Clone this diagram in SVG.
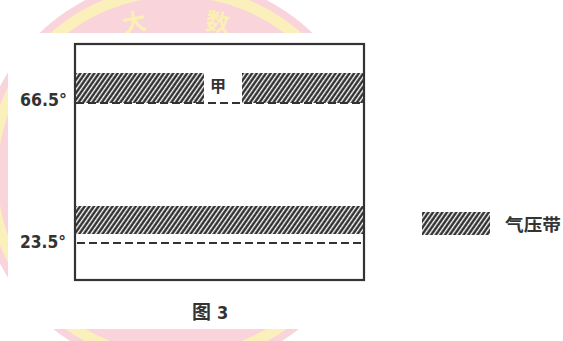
<svg xmlns="http://www.w3.org/2000/svg" width="563" height="341" viewBox="0 0 563 341">
<style>
.lbl{font-family:"DejaVu Sans Condensed","Liberation Sans",sans-serif;font-weight:bold;fill:#333}
.cjk{font-family:"Noto Sans CJK SC","Noto Sans",sans-serif;font-weight:bold;fill:#333}
.wm{font-family:"Noto Sans CJK SC",sans-serif;font-weight:bold;fill:#fbefb5}
.dash{stroke:#333;stroke-width:2.2;stroke-dasharray:8 4;fill:none}
.frame{fill:none;stroke:#333;stroke-width:2.2}
</style>
<defs>
<pattern id="hatch" width="3.8" height="10" patternUnits="userSpaceOnUse" patternTransform="rotate(35)">
<rect width="3.8" height="10" fill="#fff"/>
<line x1="1.5" y1="-1" x2="1.5" y2="11" stroke="#222" stroke-width="2.3"/>
</pattern>
</defs>
<rect width="563" height="341" fill="#fff"/>
<g id="watermark">
<circle cx="176" cy="175" r="197" fill="#f9d4da"/>
<circle cx="176" cy="175" r="184" fill="none" stroke="#fbf0bb" stroke-width="11"/>
<text class="wm" x="134" y="31" font-size="24" text-anchor="middle" transform="rotate(-10 134 20)">大</text>
<text class="wm" x="218" y="31" font-size="24" text-anchor="middle" transform="rotate(8 218 20)">数</text>
<rect x="8" y="33" width="555" height="296" fill="#fff"/>
</g>
<g id="frame">
<rect class="frame" x="75" y="44" width="289" height="236"/>
</g>
<g id="band-top">
<rect x="76" y="73" width="128" height="30" fill="url(#hatch)"/>
<rect x="242" y="73" width="121" height="30" fill="url(#hatch)"/>
<text class="cjk" x="218" y="92" font-size="16" text-anchor="middle">甲</text>
</g>
<g id="band-bottom">
<rect x="76" y="206" width="287" height="28" fill="url(#hatch)"/>
</g>
<g id="connectors">
<line class="dash" x1="76" y1="103" x2="363" y2="103"/>
<line class="dash" x1="77" y1="243" x2="363" y2="243"/>
</g>
<g id="labels">
<text class="lbl" x="20" y="106" font-size="17" textLength="47" lengthAdjust="spacingAndGlyphs">66.5°</text>
<text class="lbl" x="20" y="248" font-size="17" textLength="46" lengthAdjust="spacingAndGlyphs">23.5°</text>
</g>
<g id="legend">
<rect x="422" y="212" width="68" height="23" fill="url(#hatch)"/>
<text class="cjk" x="505" y="231" font-size="17" textLength="56" lengthAdjust="spacingAndGlyphs">气压带</text>
</g>
<g id="caption">
<text class="cjk" x="192" y="319" font-size="19">图</text>
<text class="lbl" x="217" y="319" font-size="18">3</text>
</g>
</svg>
